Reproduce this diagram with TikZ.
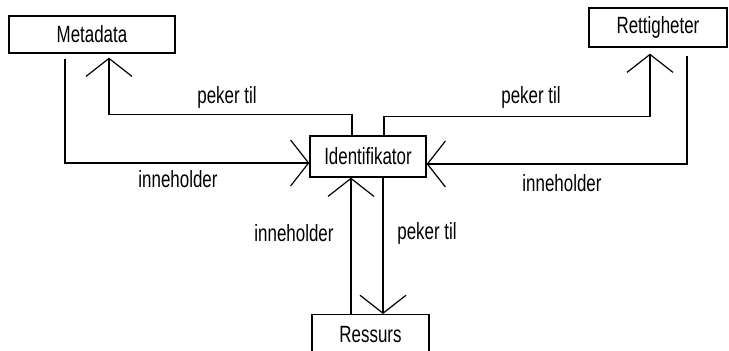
\documentclass[tikz,border=0pt]{standalone}
\usepackage{fontspec}
\setmainfont{Liberation Sans}[FakeStretch=0.72]
\usetikzlibrary{arrows.meta,calc}
\begin{document}
\begin{tikzpicture}[x=1pt,y=-1pt,
  box/.style={draw,line width=1.3pt,inner sep=0pt,font=\fontsize{23.5}{23.5}\selectfont},
  lbl/.style={inner sep=0pt,font=\fontsize{23.5}{23.5}\selectfont},
  link/.style={line width=1.3pt,-{Straight Barb[length=18pt,width=46pt,line width=1.2pt]}},
  plain/.style={line width=1.3pt}]
\useasboundingbox (0,0) rectangle (729,351);

% entities
\node[box,minimum width=166pt,minimum height=37pt] (meta) at (92,34.5) {Metadata};
\node[box,minimum width=138pt,minimum height=39pt] (rett) at (658,27.5) {Rettigheter};
\node[box,minimum width=116pt,minimum height=41pt] (ident) at (368,156.5) {Identifikator};
\node[box,minimum width=117pt,minimum height=40pt,anchor=north] (res) at (370.5,314) {Ressurs};

% Metadata <-> Identifikator
\draw[link] ([xshift=-27pt,yshift=-5pt]meta.south) |- ([yshift=-6.5pt]ident.west);
\draw[link,shorten >=4pt] ([xshift=-16pt]ident.north) -- ++(0,-21) -| ([xshift=17pt]meta.south);

% Rettigheter <-> Identifikator
\draw[link,shorten >=6pt] ([xshift=16pt]ident.north) -- ++(0,-19) -| ([xshift=-8pt]rett.south);
\draw[link] ([xshift=29pt,yshift=-8pt]rett.south) |- ([yshift=-7.5pt]ident.east);

% Identifikator <-> Ressurs
\draw[link] ([xshift=-19.5pt]res.north) -- ([xshift=-19.5pt]res.north |- ident.south);
\draw[link] ([xshift=15pt]ident.south) -- ([xshift=15pt]ident.south |- res.north);

% labels
\node[lbl] (l1) at (227,97) {peker til};
\node[lbl] (l2) at (531,97) {peker til};
\node[lbl] (l3) at (178,179) {inneholder};
\node[lbl] (l4) at (562,183) {inneholder};
\node[lbl] (l5) at (294,233) {inneholder};
\node[lbl] (l6) at (427,233) {peker til};
\end{tikzpicture}
\end{document}
